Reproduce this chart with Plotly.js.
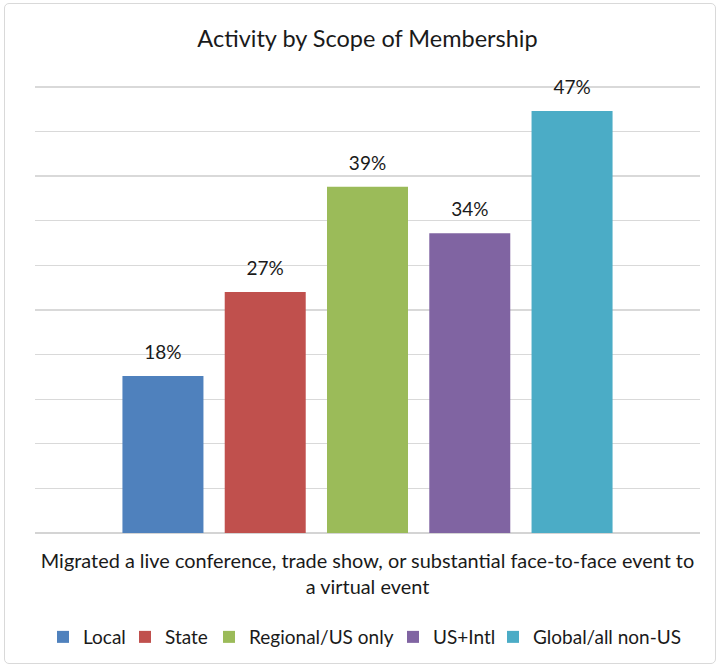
<!DOCTYPE html>
<html>
<head>
<meta charset="utf-8">
<script src="https://cdn.plot.ly/plotly-3.0.1.min.js"></script>
<style>
  html, body { margin: 0; padding: 0; background: #fff; }
  #wrap { position: relative; width: 721px; height: 669px; }
  #chart { width: 721px; height: 669px; }
  #frame { position: absolute; left: 4px; top: 3px; width: 712px; height: 661px; border: 1px solid #d9d9d9; border-radius: 5px; pointer-events: none; box-sizing: border-box; }
</style>
</head>
<body>
<div id="wrap">
  <div id="chart"></div>
  <div id="frame"></div>
</div>
<script>
// Data
const category = ["Migrated a live conference, trade show, or substantial face-to-face event to<br>a virtual event"];
const seriesNames = ["Local", "State", "Regional/US only", "US+Intl", "Global/all non-US"];
const seriesValues = [17.6, 27.0, 38.8, 33.6, 47.3];
const seriesColors = ["#4F81BD", "#C0504D", "#9BBB59", "#8064A2", "#4BACC6"];

const FONT = "Lato, 'Open Sans', sans-serif";
const TXT = "#1a1a1a";
const legendIds = ["legend", "legend2", "legend3", "legend4", "legend5"];
const legendX = [43, 125, 209, 393, 493]; // px, layout only

const barTraces = seriesNames.map((name, i) => ({
  type: "bar",
  name: name,
  legend: legendIds[i],
  x: category,
  y: [seriesValues[i]],
  marker: { color: seriesColors[i] },
  hoverinfo: "name+y"
}));

// value labels, aligned with the bars via scattermode 'group'
const labelTraces = seriesNames.map((name, i) => ({
  type: "scatter",
  mode: "markers+text",
  name: name + " label",
  showlegend: false,
  x: category,
  y: [seriesValues[i]],
  marker: { size: 18, opacity: 0, color: seriesColors[i] },
  texttemplate: "%{y:.0f}%",
  textposition: "top center",
  textfont: { family: FONT, size: 19, color: TXT },
  cliponaxis: false,
  hoverinfo: "skip"
}));

const layout = {
  width: 721,
  height: 669,
  margin: { l: 35, r: 21, t: 78, b: 136 },
  paper_bgcolor: "#ffffff",
  plot_bgcolor: "#ffffff",
  font: { family: FONT, color: TXT },
  title: {
    text: "Activity by Scope of Membership",
    font: { family: FONT, size: 23.5, color: TXT },
    xref: "paper", x: 0.5, xanchor: "center",
    yref: "container", y: 0.9413, yanchor: "middle"
  },
  barmode: "group",
  bargap: 0.231,
  bargroupgap: 0.208,
  scattermode: "group",
  scattergap: 0.231,
  xaxis: {
    type: "category",
    range: [-0.5, 0.5],
    showgrid: false,
    showline: false,
    ticks: "",
    tickfont: { family: FONT, size: 19.9, color: TXT },
    ticklabelstandoff: 14
  },
  yaxis: {
    range: [0, 51],
    tick0: 0,
    dtick: 5,
    showticklabels: false,
    ticks: "",
    showgrid: true,
    gridcolor: "#d9d9d9",
    gridwidth: 1.3,
    zeroline: true,
    zerolinecolor: "#d4d4d4",
    zerolinewidth: 1.5,
    showline: false
  },
  showlegend: true
};

legendIds.forEach((id, i) => {
  layout[id] = {
    orientation: "h",
    xref: "container", x: legendX[i] / 721, xanchor: "left",
    yref: "container", y: 0.0478, yanchor: "middle",
    font: { family: FONT, size: 19, color: TXT },
    itemwidth: 30,
    bgcolor: "rgba(0,0,0,0)"
  };
});

Plotly.newPlot("chart", barTraces.concat(labelTraces), layout, { displayModeBar: false, staticPlot: true });
</script>
</body>
</html>
